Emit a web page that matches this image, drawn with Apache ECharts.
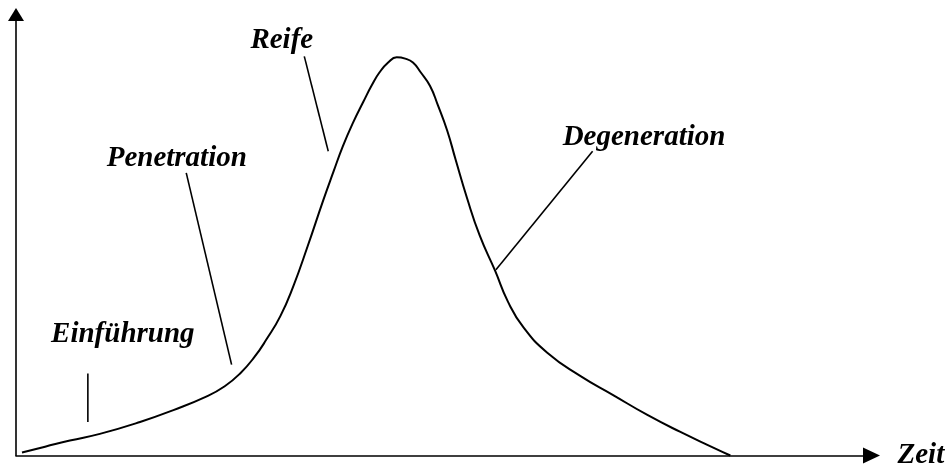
<!DOCTYPE html>
<html>
<head>
<meta charset="utf-8">
<script src="https://cdn.jsdelivr.net/npm/echarts@6/dist/echarts.min.js"></script>
<style>html,body{margin:0;padding:0;background:#fff}#c{width:950px;height:470px}</style>
</head>
<body>
<div id="c"></div>
<script>
// Product life cycle curve (time 0..100, sales 0..100)
var curveX = [0.7, 3.4, 6.3, 9.8, 14.5, 18.4, 22.3, 24.4, 26.2, 27.9, 29.3, 30.9, 32.4, 34.1, 35.9, 37.1, 38.2, 39.4, 40.6, 41.6, 42.5, 43.5, 44.5, 45.5, 46.4, 47.3, 48.4, 49.3, 50.4, 51.4, 52.7, 54.2, 56.0, 57.5, 59.3, 62.1, 65.9, 69.8, 73.8, 77.6, 81.5, 83.5];
var curveY = [0.7, 2.0, 3.4, 4.9, 7.6, 10.3, 13.4, 15.7, 18.6, 22.4, 26.4, 31.6, 38.3, 47.5, 57.8, 64.3, 70.1, 75.5, 80.2, 84.0, 86.9, 89.1, 90.3, 90.0, 89.1, 86.9, 83.8, 79.5, 73.7, 67.0, 58.5, 49.9, 41.9, 34.9, 29.1, 23.3, 18.1, 13.7, 9.2, 5.4, 1.8, 0];

// Phase labels and their leader lines
var phaseNames = ['Einführung', 'Penetration', 'Reife', 'Degeneration'];
var labelX = [4.1, 10.6, 27.4, 63.9];
var labelY = [27.4, 67.3, 94.2, 72.2];
var leaderStartX = [8.4, 19.9, 33.7, 67.4];
var leaderStartY = [18.6, 64.1, 90.5, 69.0];
var leaderEndX = [8.4, 25.2, 36.5, 56.1];
var leaderEndY = [7.6, 20.6, 69.0, 42.1];
var axisName = 'Zeit';

var font = {fontFamily: 'Liberation Serif', fontWeight: 'bold', fontStyle: 'italic', fontSize: 29, color: '#000', textBorderWidth: 0, opacity: 1};

var series = [{
  type: 'line',
  data: curveX.map(function (x, i) { return [x, curveY[i]]; }),
  smooth: 0.5,
  showSymbol: false,
  symbol: 'none',
  clip: false,
  lineStyle: {color: '#000', width: 2}
}];
phaseNames.forEach(function (n, i) {
  series.push({
    type: 'line',
    data: [[leaderStartX[i], leaderStartY[i]], [leaderEndX[i], leaderEndY[i]]],
    symbol: 'none',
    clip: false,
    lineStyle: {color: '#000', width: 1.6}
  });
});
series.push({
  type: 'scatter',
  symbolSize: 0,
  itemStyle: {color: '#000'},
  clip: false,
  data: phaseNames.map(function (n, i) { return [labelX[i], labelY[i], n]; }),
  label: Object.assign({
    show: true,
    position: [0, 0],
    align: 'left',
    verticalAlign: 'middle',
    formatter: function (p) { return p.value[2]; }
  }, font)
});

var chart = echarts.init(document.getElementById('c'), null, {renderer: 'canvas'});
chart.setOption({
  animation: false,
  backgroundColor: '#fff',
  grid: {left: 16, right: 78.5, top: 14.5, bottom: 9, containLabel: false},
  xAxis: {
    type: 'value', min: 0, max: 100,
    name: axisName, nameLocation: 'end', nameGap: 26,
    nameTextStyle: Object.assign({align: 'left', verticalAlign: 'middle', padding: [9, 0, 0, 0]}, font),
    axisLine: {show: true, onZero: false, symbol: ['none', 'triangle'], symbolSize: [16, 17], lineStyle: {color: '#000', width: 1.6}},
    axisTick: {show: false}, axisLabel: {show: false}, splitLine: {show: false}
  },
  yAxis: {
    type: 'value', min: 0, max: 100,
    axisLine: {show: true, onZero: false, symbol: ['none', 'triangle'], symbolSize: [16, 13], lineStyle: {color: '#000', width: 1.6}},
    axisTick: {show: false}, axisLabel: {show: false}, splitLine: {show: false}
  },
  series: series
});
</script>
</body>
</html>
